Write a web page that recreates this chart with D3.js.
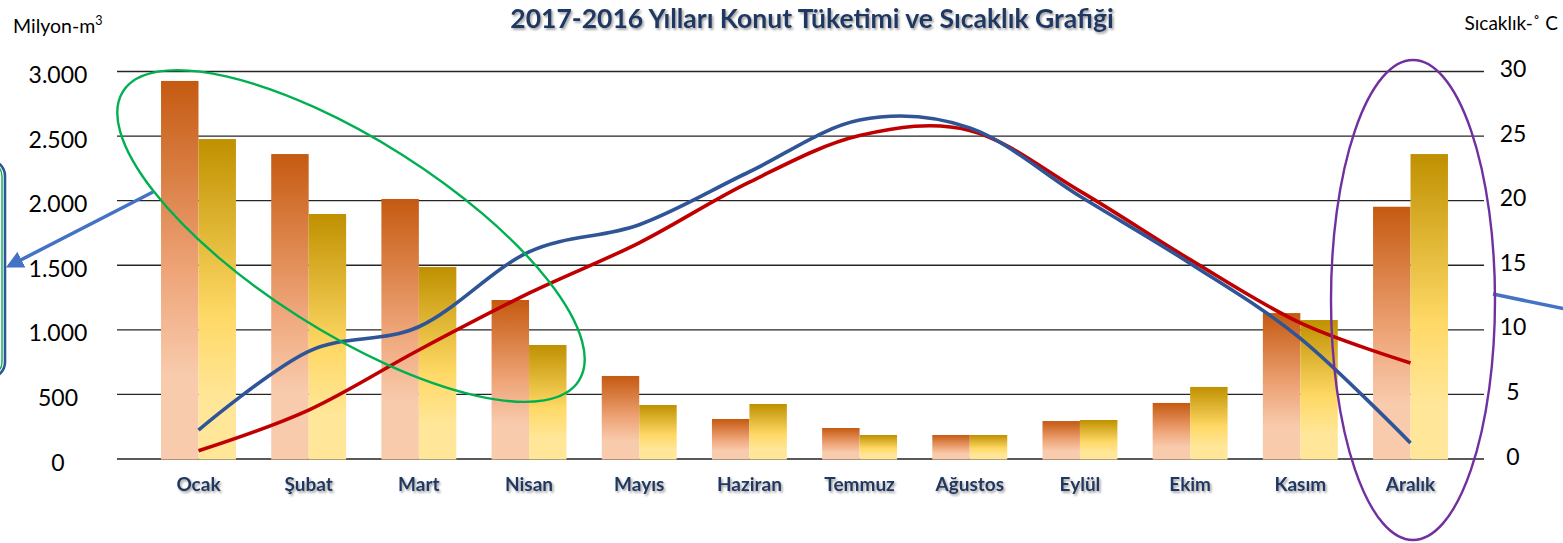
<!DOCTYPE html>
<html>
<head>
<meta charset="utf-8">
<script src="https://cdn.jsdelivr.net/npm/d3@7"></script>
<style>
  html, body { margin: 0; padding: 0; background: #ffffff; }
  svg { display: block; }
</style>
</head>
<body>
<svg id="chart" width="1563" height="543"></svg>
<script>
// ---------- DATA ----------
const months = ["Ocak","Şubat","Mart","Nisan","Mayıs","Haziran","Temmuz","Ağustos","Eylül","Ekim","Kasım","Aralık"];
const consumptionA = [2923, 2357, 2009, 1227, 639, 306, 236, 182, 290, 430, 1126, 1949];   // orange bars (Milyon-m³)
const consumptionB = [2473, 1893, 1483, 879, 414, 422, 182, 182, 298, 554, 1072, 2357];    // yellow bars (Milyon-m³)
const temperatureBlue = [2.2, 8.3, 10.2, 16.0, 18.1, 22.2, 26.2, 25.6, 20.3, 15.1, 9.3, 1.2]; // °C
const temperatureRed  = [0.6, 3.75, 8.4, 12.8, 16.7, 21.4, 25.0, 25.4, 20.7, 15.4, 10.5, 7.4]; // °C
const leftTicks = [0, 500, 1000, 1500, 2000, 2500, 3000];
const leftTickLabels = ["0", "500", "1.000", "1.500", "2.000", "2.500", "3.000"];
const rightTicks = [0, 5, 10, 15, 20, 25, 30];
const rightTickLabels = ["0", "5", "10", "15", "20", "25", "30"];
const titleText = "2017-2016 Yılları Konut Tüketimi ve Sıcaklık Grafiği";

// ---------- LAYOUT ----------
const svg = d3.select("#chart");
const gridLeft = 117, gridRight = 1484;
const yBottom = 458.5, yTop = 71;
const navy = "#1f3864";
const font = "Lato, 'Open Sans', sans-serif";

const defs = svg.append("defs");
const shadow = defs.append("filter").attr("id", "shadow")
  .attr("x", "-10%").attr("y", "-30%").attr("width", "130%").attr("height", "170%");
shadow.append("feDropShadow").attr("dx", 1.5).attr("dy", 1.8).attr("stdDeviation", 1.1)
  .attr("flood-color", "#7f7f7f").attr("flood-opacity", 0.75);

const gOrange = defs.append("linearGradient").attr("id", "gradOrange")
  .attr("x1", 0).attr("y1", 0).attr("x2", 0).attr("y2", 1);
[[0, "#c55a11"], [0.5, "#eea477"], [0.78, "#f8cbad"], [1, "#f8cbad"]]
  .forEach(([o, c]) => gOrange.append("stop").attr("offset", o).attr("stop-color", c));
const gYellow = defs.append("linearGradient").attr("id", "gradYellow")
  .attr("x1", 0).attr("y1", 0).attr("x2", 0).attr("y2", 1);
[[0, "#bf9000"], [0.55, "#ffd966"], [0.82, "#ffe699"], [1, "#ffe699"]]
  .forEach(([o, c]) => gYellow.append("stop").attr("offset", o).attr("stop-color", c));

const markerDefs = defs.append("marker").attr("id", "arrowHead")
  .attr("viewBox", "0 0 10 10").attr("refX", 8).attr("refY", 5)
  .attr("markerWidth", 5).attr("markerHeight", 5).attr("orient", "auto-start-reverse")
  .attr("markerUnits", "strokeWidth");
markerDefs.append("path").attr("d", "M0,0 L10,5 L0,10 z").attr("fill", "#4472c4");

// ---------- SCALES ----------
const x = d3.scaleBand().domain(months).range([143.4, 1465.6]).paddingInner(0.32).paddingOuter(0.16);
const xSub = d3.scaleBand().domain(["A", "B"]).range([0, x.bandwidth()]);
const y = d3.scaleLinear().domain([0, 3000]).range([yBottom, yTop]);
const yT = d3.scaleLinear().domain([0, 30]).range([yBottom, yTop]);

// ---------- GRID + LEFT AXIS ----------
const leftAxis = svg.append("g").attr("transform", `translate(${gridLeft},0)`)
  .call(d3.axisLeft(y).tickValues(leftTicks.slice(1))
    .tickSize(-(gridRight - gridLeft))
    .tickFormat(d => leftTickLabels[leftTicks.indexOf(d)]));
leftAxis.select(".domain").remove();
leftAxis.selectAll(".tick line").attr("stroke", "#262626").attr("stroke-width", 1.3);
leftAxis.selectAll(".tick text").remove();

// left tick labels (centred column)
svg.append("g").selectAll("text").data(leftTicks).join("text")
  .attr("x", 58).attr("y", d => y(d) + 3)
  .attr("text-anchor", "middle").attr("dominant-baseline", "central")
  .attr("font-family", font).attr("font-size", 23).attr("fill", "#000")
  .text((d, i) => leftTickLabels[i]);

// right tick labels
svg.append("g").selectAll("text").data(rightTicks).join("text")
  .attr("x", 1513).attr("y", d => yT(d) - 3)
  .attr("text-anchor", "middle").attr("dominant-baseline", "central")
  .attr("font-family", font).attr("font-size", 23).attr("fill", "#000")
  .text((d, i) => rightTickLabels[i]);

// baseline
svg.append("line").attr("x1", gridLeft).attr("x2", gridRight)
  .attr("y1", y(0) + 0.5).attr("y2", y(0) + 0.5)
  .attr("stroke", "#595959").attr("stroke-width", 2.2);

// ---------- BARS ----------
const groups = svg.append("g").selectAll("g").data(months).join("g")
  .attr("transform", d => `translate(${x(d)},0)`);
groups.append("rect")
  .attr("x", xSub("A")).attr("width", xSub.bandwidth())
  .attr("y", (d, i) => y(consumptionA[i])).attr("height", (d, i) => y(0) - y(consumptionA[i]) + 1)
  .attr("fill", "url(#gradOrange)");
groups.append("rect")
  .attr("x", xSub("B")).attr("width", xSub.bandwidth())
  .attr("y", (d, i) => y(consumptionB[i])).attr("height", (d, i) => y(0) - y(consumptionB[i]) + 1)
  .attr("fill", "url(#gradYellow)");

// ---------- LINES ----------
const line = d3.line()
  .x((d, i) => x(months[i]) + x.bandwidth() / 2)
  .y(d => yT(d))
  .curve(d3.curveCatmullRom.alpha(0));
svg.append("path").datum(temperatureRed).attr("d", line)
  .attr("fill", "none").attr("stroke", "#c00000").attr("stroke-width", 3.6);
svg.append("path").datum(temperatureBlue).attr("d", line)
  .attr("fill", "none").attr("stroke", "#2f5597").attr("stroke-width", 3.6);

// ---------- CATEGORY LABELS ----------
svg.append("g").selectAll("text").data(months).join("text")
  .attr("x", d => x(d) + x.bandwidth() / 2).attr("y", 491)
  .attr("text-anchor", "middle")
  .attr("font-family", font).attr("font-weight", "bold").attr("font-size", 19)
  .attr("fill", navy).attr("filter", "url(#shadow)")
  .text(d => d);

// ---------- TITLES ----------
svg.append("text").attr("x", 812).attr("y", 28).attr("text-anchor", "middle")
  .attr("font-family", font).attr("font-weight", "bold").attr("font-size", 26.5)
  .attr("fill", navy).attr("filter", "url(#shadow)")
  .text(titleText);

const unitL = svg.append("text").attr("x", 13).attr("y", 33)
  .attr("font-family", font).attr("font-size", 19.5).attr("fill", "#000");
unitL.append("tspan").text("Milyon-m");
unitL.append("tspan").attr("font-size", 12.5).attr("dy", -8).text("3");

svg.append("text").attr("x", 1558).attr("y", 30).attr("text-anchor", "end")
  .attr("font-family", font).attr("font-size", 19).attr("fill", "#000")
  .text("Sıcaklık-˚ C");

// ---------- ANNOTATIONS ----------
// left (cut-off) box
svg.append("rect").attr("x", -200).attr("y", 160).attr("width", 205).attr("height", 218)
  .attr("rx", 16).attr("fill", "none").attr("stroke", "#2f5597").attr("stroke-width", 2.6);
svg.append("rect").attr("x", -200).attr("y", 162).attr("width", 202).attr("height", 214)
  .attr("rx", 14).attr("fill", "none").attr("stroke", "#00b050").attr("stroke-width", 1.4);

// arrows
svg.append("line").attr("x1", 153).attr("y1", 192).attr("x2", 9).attr("y2", 266)
  .attr("stroke", "#4472c4").attr("stroke-width", 3.5).attr("marker-end", "url(#arrowHead)");
svg.append("line").attr("x1", 1493).attr("y1", 294).attr("x2", 1575).attr("y2", 311)
  .attr("stroke", "#4472c4").attr("stroke-width", 3.5);

// ellipses
svg.append("ellipse").attr("cx", 351).attr("cy", 236).attr("rx", 270).attr("ry", 96)
  .attr("transform", "rotate(32.4 351 236)")
  .attr("fill", "none").attr("stroke", "#00b050").attr("stroke-width", 2.4);
svg.append("ellipse").attr("cx", 1413).attr("cy", 300).attr("rx", 82).attr("ry", 240)
  .attr("fill", "none").attr("stroke", "#7030a0").attr("stroke-width", 2.4);
</script>
</body>
</html>
